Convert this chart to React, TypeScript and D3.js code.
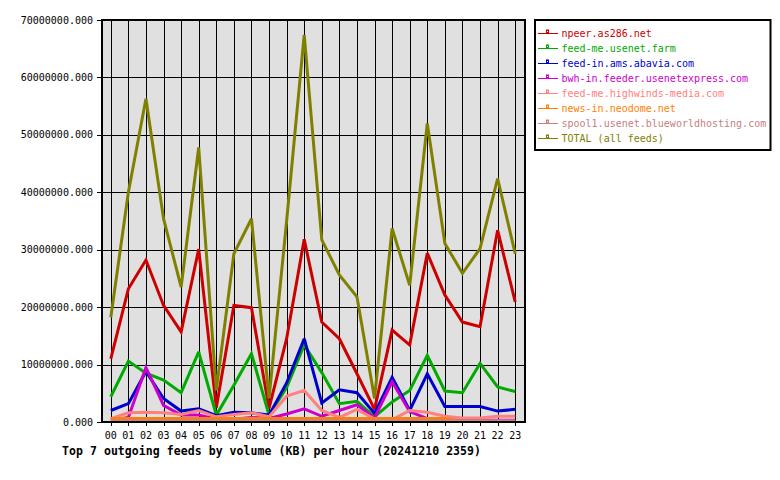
import React from "react";
import * as d3 from "d3";

// Hour-of-day categories and per-feed volumes (KB, in millions)
const hours = ["00","01","02","03","04","05","06","07","08","09","10","11","12","13","14","15","16","17","18","19","20","21","22","23"];

const feedNames = [
  "npeer.as286.net",
  "feed-me.usenet.farm",
  "feed-in.ams.abavia.com",
  "bwh-in.feeder.usenetexpress.com",
  "feed-me.highwinds-media.com",
  "news-in.neodome.net",
  "spool1.usenet.blueworldhosting.com",
  "TOTAL (all feeds)",
];

const feedColors = ["#cc0000", "#00aa00", "#0000cc", "#cc00cc", "#ff8080", "#ff8000", "#c88080", "#808000"];

const npeer = [11, 23.2, 28.2, 20.3, 15.7, 30.1, 2.5, 20.3, 19.9, 2.4, 14.5, 31.8, 17.4, 14.5, 8.4, 2.2, 16, 13.4, 29.4, 22.1, 17.4, 16.6, 33.4, 20.9];
const usenetFarm = [4.4, 10.6, 8.5, 7.3, 5.1, 12.2, 1.2, 6.4, 11.9, 1.2, 6.0, 13.4, 8.6, 3.2, 3.6, 0.9, 3.5, 5.5, 11.6, 5.4, 5.1, 10.2, 6.1, 5.3];
const abavia = [2.0, 3.2, 8.8, 4.1, 1.9, 2.3, 1.1, 1.7, 1.6, 1.2, 6.8, 14.5, 3.3, 5.6, 5.1, 1.5, 7.8, 2.0, 8.4, 2.7, 2.7, 2.7, 1.9, 2.2];
const usenetExpress = [0.3, 0.8, 9.5, 2.9, 1.2, 1.2, 0.5, 0.5, 0.8, 0.6, 1.4, 2.3, 1.0, 2.0, 3.0, 0.7, 7.0, 1.8, 0.6, 0.4, 0.3, 0.3, 0.3, 0.3];
const highwinds = [0.6, 1.6, 1.7, 1.6, 1.3, 2.0, 0.9, 1.3, 1.6, 0.9, 4.5, 5.5, 2.0, 0.8, 2.2, 0.5, 0.4, 2.0, 1.7, 1.0, 0.7, 0.7, 1.0, 1.0];
const neodome = [0.6, 0.6, 0.6, 0.6, 0.6, 0.6, 0.6, 0.6, 0.6, 0.6, 0.6, 0.6, 0.6, 0.6, 0.6, 0.6, 0.6, 0.6, 0.6, 0.6, 0.1, 0.1, 0.1, 0.1];
const blueworld = [0.2, 0.2, 0.2, 0.2, 0.2, 0.2, 0.2, 0.2, 0.2, 0.2, 0.2, 0.2, 0.2, 0.2, 0.2, 0.2, 0.2, 0.2, 0.2, 0.2, 0.2, 0.2, 0.2, 0.2];
const totalAll = [18.2, 40, 56.3, 35.4, 23.5, 47.8, 5.5, 29.3, 35.4, 4.1, 35, 67.4, 31.7, 25.6, 21.8, 4.1, 33.7, 23.8, 52, 31.1, 25.9, 30.2, 42.4, 29.3];

const yTicks = [0, 10000000, 20000000, 30000000, 40000000, 50000000, 60000000, 70000000];

const titleText = "Top 7 outgoing feeds by volume (KB) per hour (20241210 2359)";

const seriesValues = [npeer, usenetFarm, abavia, usenetExpress, highwinds, neodome, blueworld, totalAll];

const W = 780;
const H = 480;
const plot = { left: 102, right: 525, top: 20, bottom: 422 };

export default function App() {
  const x = d3.scalePoint<string>().domain(hours).range([plot.left, plot.right - 1]).padding(0.5);
  const y = d3.scaleLinear().domain([0, 70000000]).range([plot.bottom, plot.top]);

  const line = d3
    .line<number>()
    .x((_, i) => x(hours[i]) as number)
    .y((v) => y(v * 1e6));

  const mono = "'DejaVu Sans Mono', 'Liberation Mono', monospace";

  return (
    <svg
      width={W}
      height={H}
      viewBox={`0 0 ${W} ${H}`}
      style={{ position: "absolute", left: 0, top: 0, background: "#fff" }}
    >
      {/* plot background */}
      <rect x={plot.left} y={plot.top} width={plot.right - plot.left} height={plot.bottom - plot.top} fill="#e0e0e0" />

      {/* horizontal grid and y ticks */}
      {yTicks.map((t) => (
        <g key={"y" + t}>
          <line x1={plot.left} x2={plot.right} y1={Math.round(y(t)) + 0.5} y2={Math.round(y(t)) + 0.5} stroke="#000" strokeWidth={1} />
          <line x1={plot.left - 5} x2={plot.left} y1={Math.round(y(t)) + 0.5} y2={Math.round(y(t)) + 0.5} stroke="#000" strokeWidth={1} />
          <text x={93} y={y(t) + 3.6} textAnchor="end" fontFamily={mono} fontSize={10} fill="#000">
            {t.toFixed(3)}
          </text>
        </g>
      ))}

      {/* vertical grid and x ticks */}
      {hours.map((h) => {
        const px = Math.round(x(h) as number) + 0.5;
        return (
          <g key={"x" + h}>
            <line x1={px} x2={px} y1={plot.top} y2={plot.bottom + 4} stroke="#000" strokeWidth={1} />
            <text x={x(h) as number} y={438.5} textAnchor="middle" fontFamily={mono} fontSize={10} fill="#000">
              {h}
            </text>
          </g>
        );
      })}

      {/* feed lines */}
      {seriesValues.map((vals, i) => (
        <path
          key={"s" + i}
          d={line(vals) || ""}
          fill="none"
          stroke={feedColors[i]}
          strokeWidth={3}
          strokeLinejoin="miter"
          strokeMiterlimit={3}
        />
      ))}

      {/* plot frame */}
      <rect
        x={plot.left}
        y={plot.top}
        width={plot.right - plot.left}
        height={plot.bottom - plot.top}
        fill="none"
        stroke="#000"
        strokeWidth={2}
      />

      {/* title */}
      <text x={62} y={454.5} fontFamily={mono} fontWeight="bold" fontSize={11.5} fill="#000" textLength={419} lengthAdjust="spacing">
        {titleText}
      </text>

      {/* legend */}
      <rect x={535} y={20} width={235.5} height={130} fill="#fff" stroke="#000" strokeWidth={2} />
      {feedNames.map((name, i) => {
        const ly = 33.5 + i * 15;
        return (
          <g key={"l" + i}>
            <line x1={538} x2={558} y1={ly} y2={ly} stroke={feedColors[i]} strokeWidth={1} />
            <rect x={546.5} y={ly - 3.5} width={2} height={3} fill="none" stroke={feedColors[i]} strokeWidth={1} />
            <text x={561.5} y={ly + 3.4} fontFamily={mono} fontSize={10} fill={feedColors[i]}>
              {name}
            </text>
          </g>
        );
      })}
    </svg>
  );
}
